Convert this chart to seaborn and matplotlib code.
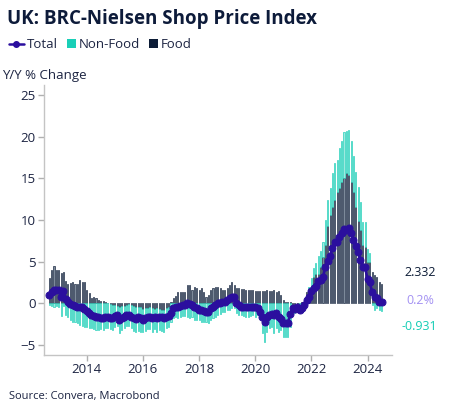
import pandas as pd
import numpy as np
import matplotlib
matplotlib.use('Agg')
import matplotlib.pyplot as plt
import matplotlib.dates as mdates
from matplotlib.lines import Line2D
from matplotlib.patches import Patch, Rectangle
from matplotlib.legend_handler import HandlerPatch
import seaborn as sns

# Dados mensais (variação anual %), set/2012 a jul/2024
inicio = '2012-09-01'

total = [
    1.0, 1.4, 1.6, 1.6,
    1.6, 0.8, 1.5, 0.5, 0.1, -0.1, -0.2, -0.3, -0.4, -0.4, -0.5, -0.7,
    -0.9, -1.2, -1.4, -1.5, -1.6, -1.7, -1.8, -1.8, -1.6, -1.7, -1.8, -1.8,
    -1.5, -1.4, -2.0, -1.8, -1.6, -1.4, -1.4, -1.6, -1.8, -1.9, -1.7, -1.8,
    -2.0, -1.8, -1.6, -1.7, -1.8, -1.6, -1.8, -1.6, -1.7, -1.8, -1.6, -1.5,
    -1.2, -0.6, -0.5, -0.4, -0.3, -0.2, -0.2, 0.0, -0.1, -0.2, -0.4, -0.6,
    -0.8, -0.8, -0.9, -1.0, -1.0, -0.6, -0.4, -0.2, 0.0, 0.0, 0.1, 0.2,
    0.4, 0.6, 0.8, 0.8, 0.0, -0.2, -0.4, -0.4, -0.5, -0.4, -0.5, -0.4,
    -0.5, -0.6, -1.0, -1.6, -2.2, -1.6, -1.4, -1.3, -1.4, -1.2, -1.6, -1.9,
    -2.4, -2.4, -2.4, -1.3, -0.6, -0.7, -0.4, -0.8, -0.6, -0.2, 0.4, 0.8,
    1.5, 1.8, 2.1, 2.7, 2.8, 3.1, 4.4, 5.1, 5.7, 6.6, 7.4, 7.3,
    8.0, 8.4, 8.9, 8.8, 9.0, 8.4, 7.6, 6.9, 6.2, 5.2, 4.3, 4.3,
    2.9, 2.5, 1.3, 0.8, 0.6, 0.2, 0.2,
]

food = [
    3.0, 4.0, 4.5, 4.0,
    4.0, 3.6, 3.7, 2.7, 2.3, 2.4, 2.6, 2.3, 2.3, 2.8, 2.6, 2.5,
    1.6, 1.2, 0.6, 0.8, 0.6, 0.4, 0.3, 0.3, 0.2, 0.0, -0.1, -0.2,
    -0.2, -0.3, -0.4, -0.3, -0.3, -0.2, -0.1, -0.2, -0.3, -0.4, -0.5, -0.5,
    -0.7, -0.6, -0.6, -0.5, -0.6, -0.7, -0.6, -0.7, -0.8, -0.8, -0.6, -0.5,
    0.1, 0.6, 0.9, 1.4, 1.3, 1.4, 1.3, 2.2, 2.2, 1.6, 1.9, 1.8,
    1.6, 1.8, 1.4, 0.8, 1.0, 1.6, 1.8, 2.0, 2.0, 1.8, 1.6, 1.6,
    1.8, 2.2, 2.6, 2.2, 1.8, 1.8, 1.7, 1.7, 1.6, 1.6, 1.6, 1.6,
    1.5, 1.5, 1.5, 1.5, 1.5, 1.6, 1.5, 1.5, 1.6, 1.4, 1.5, 1.0,
    0.4, 0.2, 0.1, 0.1, -0.2, -0.2, -0.1, 0.0, 0.1, 0.2, 1.3, 1.6,
    1.6, 3.1, 3.5, 3.5, 4.3, 5.6, 7.0, 9.3, 10.6, 11.6, 12.4, 13.3,
    13.8, 14.5, 15.0, 15.7, 15.4, 14.6, 13.4, 11.5, 9.9, 8.8, 7.0, 6.7,
    5.0, 5.0, 3.7, 3.4, 3.2, 2.5, 2.332,
]

non_food = [
    -0.2, -0.3, -0.4, -0.3,
    -0.4, -1.5, -0.3, -1.4, -1.6, -2.0, -2.2, -2.3, -2.4, -2.6, -2.7, -2.8,
    -2.8, -3.0, -3.0, -3.1, -3.2, -3.2, -3.1, -3.2, -3.0, -3.0, -3.0, -3.0,
    -2.6, -2.4, -3.2, -2.9, -2.7, -2.5, -2.6, -2.8, -3.0, -3.0, -2.8, -2.9,
    -2.8, -2.7, -2.5, -2.6, -2.8, -2.4, -2.8, -2.5, -2.5, -2.6, -2.4, -2.4,
    -2.2, -1.8, -1.7, -1.8, -1.6, -1.5, -1.5, -1.6, -1.8, -1.6, -2.0, -2.0,
    -2.0, -2.2, -2.2, -2.3, -2.4, -2.0, -1.8, -1.6, -1.4, -1.3, -1.1, -1.0,
    -0.8, -0.8, -0.6, -0.6, -1.2, -1.4, -1.4, -1.5, -1.6, -1.6, -1.5, -1.4,
    -1.6, -1.4, -1.6, -3.6, -4.6, -3.4, -3.0, -2.8, -3.6, -3.0, -3.4, -3.2,
    -4.0, -4.0, -4.0, -2.8, -0.9, -1.0, -0.7, -1.2, -1.0, -0.5, -0.2, 0.4,
    1.4, 1.1, 1.3, 2.2, 2.0, 1.8, 3.0, 3.1, 3.2, 4.0, 4.4, 3.9,
    4.9, 5.0, 5.6, 5.0, 5.4, 4.9, 4.3, 4.3, 4.0, 3.3, 2.8, 3.0,
    1.5, 1.0, -0.2, -0.8, -0.6, -0.8, -0.931,
]

rotulos_direita = ['2.332', '0.2%', '-0.931']

cor_total = '#2b0f9e'
cor_food = '#0c1c36'
cor_food_fill = '#7d8a9a'
cor_nonfood = '#14cdb5'
cor_nonfood_fill = '#9fe9df'
cor_texto = '#1c2442'

sns.set_theme(style='white')
plt.rcParams['font.family'] = ['Open Sans', 'DejaVu Sans']

df = pd.DataFrame({
    'data': pd.date_range(inicio, periods=len(total), freq='MS'),
    'Total': total,
    'Food': food,
    'Non-Food': non_food,
})

# empilhamento: positivos sobre positivos, negativos sob negativos
f = df['Food'].to_numpy()
n = df['Non-Food'].to_numpy()
base_nf = np.where(n >= 0, np.maximum(f, 0), np.minimum(f, 0))

fig = plt.figure(figsize=(4.54, 4.17), dpi=100)
ax = fig.add_axes([0.097, 0.149, 0.766, 0.647])

largura = 14  # dias
ax.bar(df['data'], f, width=largura, color=cor_food_fill,
       edgecolor=cor_food, linewidth=0.45, zorder=2)
ax.bar(df['data'], n, bottom=base_nf, width=largura, color=cor_nonfood_fill,
       edgecolor=cor_nonfood, linewidth=0.45, zorder=2)

sns.lineplot(data=df, x='data', y='Total', ax=ax, color=cor_total,
             linewidth=1.9, marker='o', markersize=5,
             markeredgecolor=cor_total, zorder=3)

ax.set_xlim(pd.Timestamp('2012-06-24'), pd.Timestamp('2024-11-12'))
ax.set_ylim(-6.2, 26.2)
ax.set_yticks([-5, 0, 5, 10, 15, 20, 25])
ax.xaxis.set_major_locator(mdates.YearLocator(2))
ax.xaxis.set_major_formatter(mdates.DateFormatter('%Y'))
ax.set_xlabel('')
ax.set_ylabel('')

for lado in ['top', 'right']:
    ax.spines[lado].set_visible(False)
for lado in ['left', 'bottom']:
    ax.spines[lado].set_color('#c4c4c4')
    ax.spines[lado].set_linewidth(1.0)
ax.tick_params(axis='both', which='major', length=4, width=1.0,
               color='#b0b0b0', labelsize=9.5, labelcolor=cor_texto,
               bottom=True, left=True, pad=2)

fig.text(0.015, 0.955, 'UK: BRC-Nielsen Shop Price Index', fontsize=13.5,
         fontweight='bold', color='#0d1b3a', va='center', ha='left')


def quadrado(legend, orig_handle, xdescent, ydescent, width, height, fontsize):
    lado = height * 0.95
    return Rectangle((width - lado, -ydescent + (height - lado) / 2), lado, lado)


handles = [
    Line2D([0], [0], color=cor_total, linewidth=1.8, marker='o', markersize=4),
    Patch(facecolor='#19cfb7', edgecolor='none'),
    Patch(facecolor=cor_food, edgecolor='none'),
]
fig.legend(handles, ['Total', 'Non-Food', 'Food'], loc='center left',
           bbox_to_anchor=(0.0, 0.893), ncol=3, frameon=False, fontsize=9.5,
           handlelength=1.1, handleheight=0.7, handletextpad=0.2,
           columnspacing=0.3, labelcolor=cor_texto, borderpad=0.2,
           handler_map={Patch: HandlerPatch(patch_func=quadrado)})

fig.text(0.004, 0.82, 'Y/Y % Change', fontsize=9.5, color=cor_texto,
         va='center', ha='left')

cores_rot = [cor_food, '#a391f2', cor_nonfood]
ys_rot = [1 - 273 / 417, 1 - 300 / 417, 1 - 326 / 417]
xs_rot = [404 / 454, 406 / 454, 402 / 454]
for txt, cor, xr, yr in zip(rotulos_direita, cores_rot, xs_rot, ys_rot):
    fig.text(xr, yr, txt, fontsize=9, color=cor, va='center', ha='left')

fig.text(0.02, 1 - 397 / 417, 'Source: Convera, Macrobond', fontsize=8,
         color=cor_texto, va='center', ha='left')

fig.savefig('out.png', dpi=100)
